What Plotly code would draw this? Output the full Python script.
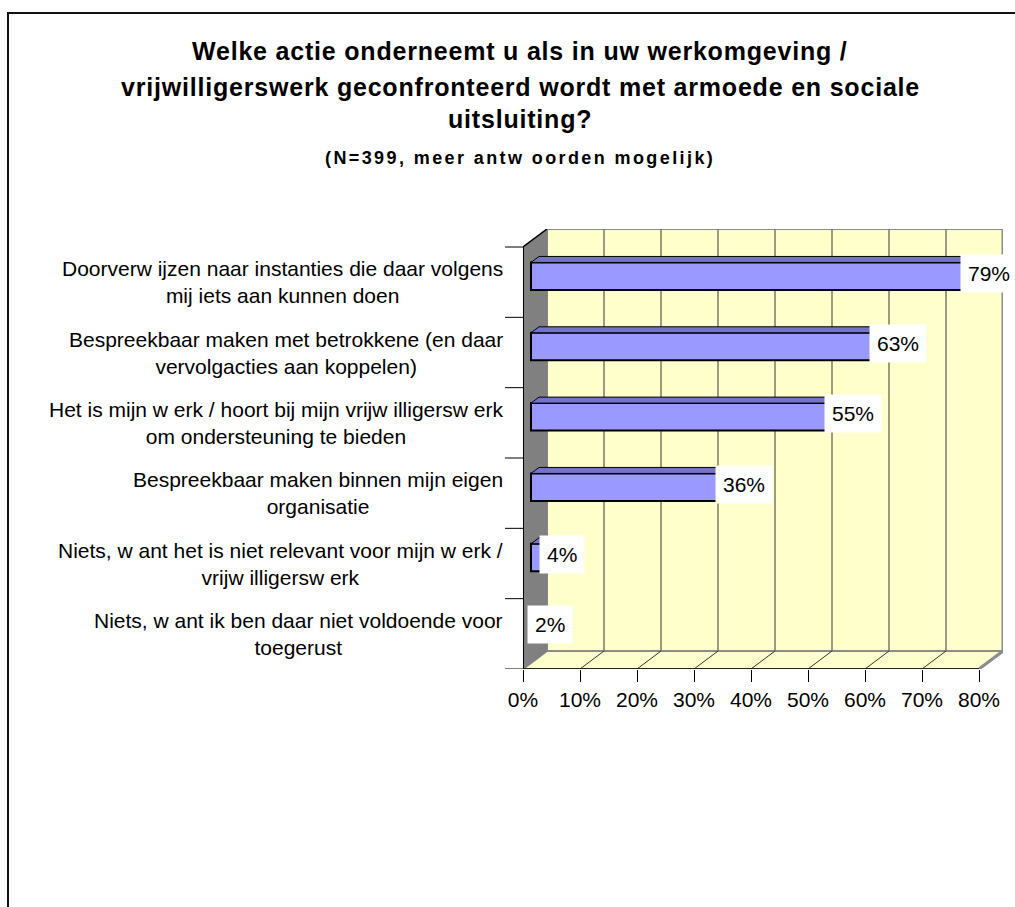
import plotly.graph_objects as go

# ---- data -------------------------------------------------------------
categories = [
    "Doorverw ijzen naar instanties die daar volgens<br>mij iets aan kunnen doen",
    "Bespreekbaar maken met betrokkene (en daar<br>vervolgacties aan koppelen)",
    "Het is mijn w erk / hoort bij mijn vrijw illigersw erk<br>om ondersteuning te bieden",
    "Bespreekbaar maken binnen mijn eigen<br>organisatie",
    "Niets, w ant het is niet relevant voor mijn w erk /<br>vrijw illigersw erk",
    "Niets, w ant ik ben daar niet voldoende voor<br>toegerust",
]
percentages = [79, 63, 55, 36, 4, 2]
x_ticks = [0, 10, 20, 30, 40, 50, 60, 70, 80]
x_tick_labels = [f"{t}%" for t in x_ticks]

title_lines = [
    "Welke actie onderneemt u als in uw werkomgeving /",
    "vrijwilligerswerk geconfronteerd wordt met armoede en sociale",
    "uitsluiting?",
]
subtitle = "(N=399, meer antw oorden mogelijk)"

# ---- geometry (pixels) -----------------------------------------------
W, H = 1015, 907
L, R, T, B = 523, 1003, 229, 669          # plot area incl. 3D depth
DEPTH_X, DEPTH_Y = 24, 18                  # depth offset of back wall
FONT = "Arial, Liberation Sans, sans-serif"

n = len(categories)
x_max = x_ticks[-1]
px_per_unit_x = (R - L - DEPTH_X) / x_max
dx = DEPTH_X / px_per_unit_x                # depth in x data units
px_per_band = (B - T - DEPTH_Y) / n
dy = DEPTH_Y / px_per_band                  # depth in y data units

bar_dx, bar_dy = dx / 3, dy / 3             # bars sit one third deep
bar_h = 0.39


def px_x(p):
    return (p - L) / (R - L)


def px_y(p):
    return (B - p) / (B - T)


def spaced(text, px):
    return f'<span style="letter-spacing:{px}px">{text}</span>'


y_front = list(range(n))
y_bar = [i - bar_dy for i in y_front]

fig = go.Figure()
fig.add_trace(go.Bar(
    orientation="h",
    y=y_bar,
    x=percentages,
    base=bar_dx,
    width=bar_h,
    marker=dict(color="#9999FF", line=dict(color="#000000", width=2)),
    hoverinfo="skip",
))

shapes = []
wall_yellow = "#FFFFCC"
ybot, ytop = n - 0.5, -0.5

# back wall
shapes.append(dict(type="rect", xref="x", yref="y", layer="below",
                   x0=dx, x1=x_max + dx, y0=ytop - dy, y1=ybot - dy,
                   fillcolor=wall_yellow, line=dict(color="#8c8c8c", width=2)))
# floor
shapes.append(dict(type="path", xref="x", yref="y", layer="below",
                   path=f"M0,{ybot} L{x_max},{ybot} L{x_max + dx},{ybot - dy} L{dx},{ybot - dy} Z",
                   fillcolor=wall_yellow, line=dict(color="#8c8c8c", width=2)))
# left wall
shapes.append(dict(type="path", xref="x", yref="y", layer="below",
                   path=f"M0,{ybot} L0,{ytop} L{dx},{ytop - dy} L{dx},{ybot - dy} Z",
                   fillcolor="#808080", line=dict(color="#808080", width=1)))
# gridlines on back wall and floor
for t in x_ticks[1:-1]:
    shapes.append(dict(type="line", xref="x", yref="y", layer="below",
                       x0=t + dx, x1=t + dx, y0=ytop - dy, y1=ybot - dy,
                       line=dict(color="#7a7a66", width=1.5)))
for t in x_ticks[1:]:
    shapes.append(dict(type="line", xref="x", yref="y", layer="below",
                       x0=t, x1=t + dx, y0=ybot, y1=ybot - dy,
                       line=dict(color="#333333", width=1)))
# right edge of back wall / floor
shapes.append(dict(type="line", xref="x", yref="y", layer="below",
                   x0=x_max + dx, x1=x_max + dx, y0=ytop - dy, y1=ybot - dy,
                   line=dict(color="#8c8c8c", width=3)))
shapes.append(dict(type="line", xref="x", yref="y", layer="below",
                   x0=x_max, x1=x_max + dx, y0=ybot, y1=ybot - dy,
                   line=dict(color="#8c8c8c", width=3)))
# front edges of left wall and floor
shapes.append(dict(type="line", xref="x", yref="y", layer="below",
                   x0=0, x1=0, y0=ytop, y1=ybot, line=dict(color="#000000", width=2)))
shapes.append(dict(type="line", xref="x", yref="y", layer="below",
                   x0=0, x1=dx, y0=ytop, y1=ytop - dy, line=dict(color="#000000", width=1.5)))
shapes.append(dict(type="line", xref="x", yref="y", layer="below",
                   x0=0, x1=x_max, y0=ybot, y1=ybot, line=dict(color="#000000", width=1.5)))

# 3D top and end faces of the bars
for yc, v in zip(y_bar, percentages):
    yt, yb = yc - bar_h / 2, yc + bar_h / 2
    x0, x1 = bar_dx, bar_dx + v
    shapes.append(dict(type="path", xref="x", yref="y", layer="above",
                       path=f"M{x0},{yt} L{x1},{yt} L{x1 + bar_dx},{yt - bar_dy} L{x0 + bar_dx},{yt - bar_dy} Z",
                       fillcolor="#7373CC", line=dict(color="#000000", width=1)))
    shapes.append(dict(type="path", xref="x", yref="y", layer="above",
                       path=f"M{x1},{yt} L{x1 + bar_dx},{yt - bar_dy} L{x1 + bar_dx},{yb - bar_dy} L{x1},{yb} Z",
                       fillcolor="#4D4D99", line=dict(color="#000000", width=1)))

# category tick marks on band boundaries
for k in range(n + 1):
    shapes.append(dict(type="line", xref="paper", yref="y",
                       x0=px_x(L - 18), x1=px_x(L), y0=k - 0.5, y1=k - 0.5,
                       line=dict(color="#000000", width=1)))

# outer chart frame
shapes.append(dict(type="rect", xref="paper", yref="paper",
                   x0=px_x(8), x1=px_x(W + 20), y0=px_y(13), y1=px_y(H + 20),
                   line=dict(color="#111111", width=2), fillcolor="rgba(0,0,0,0)"))

annotations = []
# category labels
for yi, label in zip(y_front, categories):
    annotations.append(dict(xref="paper", yref="y", x=px_x(L - 18), y=yi,
                            xanchor="right", yanchor="middle", align="center",
                            text=label, showarrow=False,
                            font=dict(family=FONT, size=21, color="#000000")))
# value labels
for yi, v in zip(y_front, percentages):
    annotations.append(dict(xref="x", yref="y", x=bar_dx + v + bar_dx, y=yi - dy / 2,
                            xanchor="center", yanchor="middle",
                            text=f"{v}%", showarrow=False, bgcolor="#FFFFFF",
                            borderpad=7,
                            font=dict(family=FONT, size=21, color="#000000")))
# title
title_y = [51, 87, 119]
for line, ty in zip(title_lines, title_y):
    annotations.append(dict(xref="paper", yref="paper", x=px_x(520), y=px_y(ty),
                            xanchor="center", yanchor="middle", text=spaced(line, 0.8),
                            showarrow=False,
                            font=dict(family=FONT, size=25, weight="bold", color="#000000")))
annotations.append(dict(xref="paper", yref="paper", x=px_x(520), y=px_y(158),
                        xanchor="center", yanchor="middle", text=spaced(subtitle, 2.4),
                        showarrow=False,
                        font=dict(family=FONT, size=18, weight="bold", color="#000000")))

fig.update_layout(
    width=W, height=H,
    margin=dict(l=L, r=W - R, t=T, b=H - B, pad=0),
    paper_bgcolor="#FFFFFF", plot_bgcolor="rgba(0,0,0,0)",
    showlegend=False,
    shapes=shapes, annotations=annotations,
    xaxis=dict(range=[0, x_max + dx], tickmode="array", tickvals=x_ticks,
               ticktext=x_tick_labels, ticks="outside", ticklen=12,
               tickcolor="#000000", tickwidth=1, showgrid=False, zeroline=False,
               showline=False, tickfont=dict(family=FONT, size=21, color="#000000"),
               fixedrange=True),
    yaxis=dict(range=[ybot, ytop - dy], showticklabels=False, ticks="",
               showgrid=False, zeroline=False, showline=False, fixedrange=True),
)

fig.write_html("out.html", config={"displayModeBar": False})
